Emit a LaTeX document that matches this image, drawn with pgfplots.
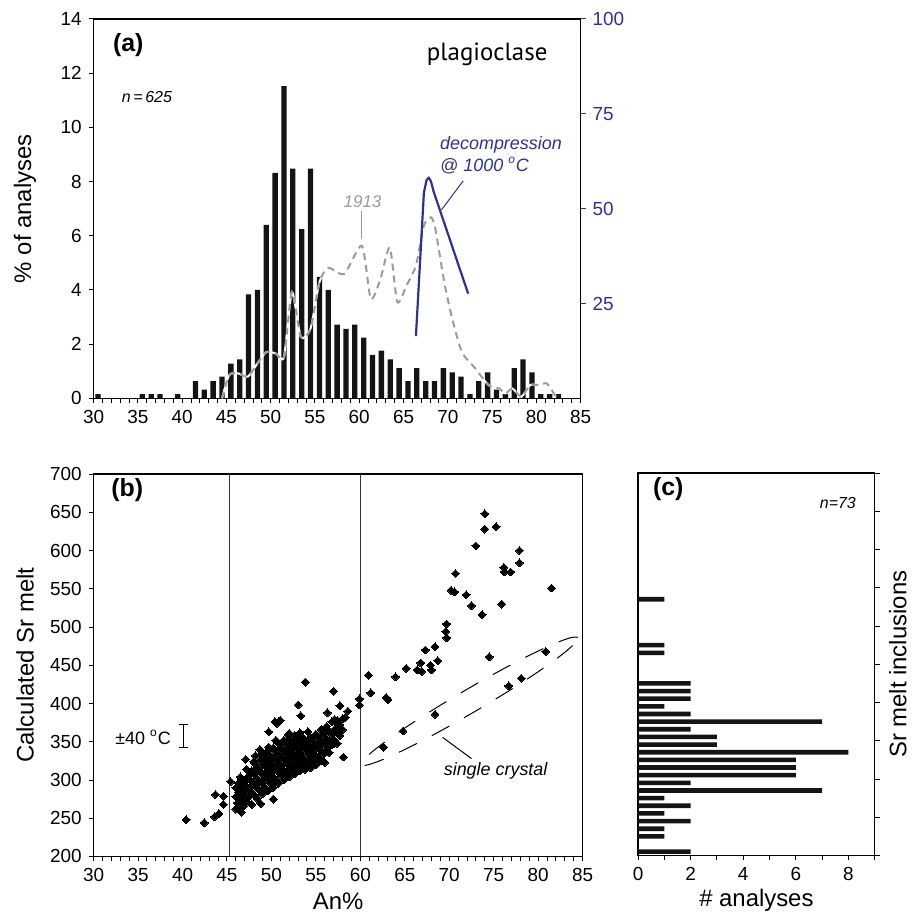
\documentclass[border=0pt]{standalone}
\usepackage{fontspec}
\setmainfont{Liberation Sans}
\newfontfamily\ptsans{PT Sans}
\usepackage{pgfplots}
\usepackage{pgfplotstable}
\pgfplotsset{compat=1.18}
\definecolor{dblue}{RGB}{46,49,146}
\definecolor{lgray}{RGB}{155,155,155}

\pgfplotsset{
  panel/.style={
    scale only axis, anchor=north west,
    tick align=outside,
    ticklabel style={font=\fontsize{9.5}{11}\selectfont},
    label style={font=\fontsize{12}{14}\selectfont},
    /pgf/number format/assume math mode=true,
    major tick length=2.5pt, minor tick length=2.5pt,
    tick style={black, line width=0.5pt},
    axis line style={line width=0.6pt},
    scaled ticks=false,
  }
}

% 1913 curve, right axis (0-100)
\pgfplotstableread{
x y
44.5 0
45.3 6.1
46.3 6.6
47.4 5.7
48.5 9.2
49.5 12.2
50.6 11.8
51.5 10.9
52.4 28
53.4 16.2
54.5 18.4
55.5 30.6
56.5 34.4
58.3 32.8
60.3 40.2
61.3 26.2
62.4 31.5
63.45 39.8
64.3 25.4
65.4 30
66.4 35
67.3 45.5
68.1 47.7
68.6 44.6
69.6 30.6
70.5 21
71.6 12.2
73.1 7.9
74.6 3.5
75.8 2.6
76.5 1.3
77.3 2.6
78.3 0.4
79.3 3.5
80.3 3.5
81.2 3.9
82.2 0.4
}\curveA

\begin{document}
\begin{tikzpicture}
\path (0,0) rectangle (457pt,-459pt);

% ---------- (a) ----------
\begin{axis}[panel, at={(47pt,-9.5pt)}, width=244.5pt, height=190.5pt,
  xmin=30, xmax=85, ymin=0, ymax=14,
  xtick={30,35,...,85}, minor x tick num=4,
  ytick={0,2,...,14}, xtick pos=left, ytick pos=left,
  ylabel={\% of analyses},
  ylabel style={at={(axis description cs:-0.141,0.5)}, anchor=center}]
\addplot[ybar, bar width=0.6, fill=black!92, draw=none] coordinates {
(30.5,0.16) (35.5,0.16) (36.5,0.16) (37.5,0.16) (39.5,0.16) (41.5,0.64)
(42.5,0.32) (43.5,0.64) (44.5,0.80) (45.5,1.28) (46.5,1.44) (47.5,3.84)
(48.5,4.00) (49.5,6.40) (50.5,8.32) (51.5,11.52) (52.5,8.48) (53.5,6.24)
(54.5,8.48) (55.5,4.48) (56.5,4.00) (57.5,2.72) (58.5,2.56) (59.5,2.72)
(60.5,2.24) (61.5,1.60) (62.5,1.76) (63.5,1.44) (64.5,1.12) (65.5,0.64)
(66.5,1.12) (67.5,0.64) (68.5,0.64) (69.5,1.12) (70.5,0.96) (71.5,0.80)
(72.5,0.16) (73.5,0.64) (74.5,0.96) (75.5,0.32) (76.5,0.16) (77.5,1.12)
(78.5,1.44) (79.5,0.96) (80.5,0.16) (81.5,0.16) (82.5,0.16)};
\end{axis}

\begin{axis}[panel, at={(47pt,-9.5pt)}, width=244.5pt, height=190.5pt,
  xmin=30, xmax=85, ymin=0, ymax=100,
  axis x line=none, axis y line*=right,
  y axis line style={draw=none},
  ytick={25,50,75,100},
  ytick style={dblue, line width=0.5pt},
  yticklabel style={dblue}]
\addplot[white, line width=1pt, smooth, tension=0.4] table[x=x,y=y] {\curveA};
\addplot[lgray, line width=1pt, dash pattern=on 3.5pt off 2.5pt, smooth, tension=0.4] table[x=x,y=y] {\curveA};
\addplot[dblue, line width=1.1pt, line join=round] coordinates {
(66.4,16.4) (67.3,54.2) (67.6,57.5) (67.85,58.2) (68.1,57.2) (68.4,54.5) (72.3,27.6)};
\draw[dblue, line width=0.5pt] (axis cs:71.73,57.3) -- (axis cs:69.29,49.7);
\draw[lgray, line width=0.6pt] (axis cs:60.23,49.4) -- (axis cs:60.23,41.9);
\node[anchor=west, font=\bfseries\fontsize{12.5}{14}\selectfont] at (axis cs:31.4,93.2) {(a)};
\node[anchor=west, font=\itshape\fontsize{8}{10}\selectfont] at (axis cs:32.4,79.3) {n\,=\,625};
\node[anchor=base west, inner sep=0pt, font=\ptsans\fontsize{12.5}{14}\selectfont] at (axis cs:67.6,89.0) {plagioclase};
\node[anchor=base west, inner sep=0pt, text=dblue, font=\itshape\fontsize{9}{11}\selectfont] at (axis cs:69.1,65.6) {decompression};
\node[anchor=base west, inner sep=0pt, text=dblue, font=\itshape\fontsize{9}{11}\selectfont] at (axis cs:69.1,59.8) {@ 1000 \textsuperscript{o}C};
\node[text=lgray, font=\itshape\fontsize{8.5}{10}\selectfont] at (axis cs:60.37,51.8) {1913};
\end{axis}

% ---------- (b) ----------
\begin{axis}[panel, at={(47pt,-238pt)}, width=245.5pt, height=192pt,
  xmin=30, xmax=85, ymin=200, ymax=700,
  xtick={30,35,...,85}, minor x tick num=4,
  ytick={200,250,...,700}, xtick pos=left, ytick pos=left,
  xlabel={An\%}, ylabel={Calculated Sr melt},
  xlabel style={at={(axis description cs:0.5,-0.117)}, anchor=center},
  ylabel style={at={(axis description cs:-0.140,0.5)}, anchor=center}]
\addplot[black!80, line width=0.6pt] coordinates {(45.3,200) (45.3,700)};
\addplot[black!80, line width=0.6pt] coordinates {(60,200) (60,700)};
\addplot[only marks, mark=square*, mark size=1.4pt,
  mark options={rotate=45, fill=black, draw=black, line width=0pt}] coordinates {
(40.4,248) (42.45,244) (43.7,281) (43.6,252) (44.1,256) (44.6,279) (44.6,268)
(45.4,298) (46.5,304) (46.5,264) (46.2,270) (47.1,327) (48.2,332) (48.0,324)
(48.8,269) (50.2,275) (50.3,295) (49.5,337) (49.7,343) (49.7,363) (50.4,376)
(50.8,376) (50.6,374) (51.0,378) (51.9,359) (52.0,361) (53.0,398) (53.3,384)
(53.8,428) (54.1,363) (55.1,358) (55.8,360) (55.1,345) (55.5,326) (56.0,323)
(56.96,363) (57.5,372) (56.96,347) (56.4,344) (57.0,416) (57.7,397) (56.3,388)
(57.1,379) (58.6,390) (58.3,382) (58.1,330) (59.9,406) (59.9,398)
(46.0,262) (46.0,278) (46.0,290)
(46.3,270) (46.3,284) (46.3,296)
(46.6,258) (46.6,276) (46.6,288) (46.6,302)
(46.9,266) (46.9,280) (46.9,294)
(47.2,272) (47.2,286) (47.2,300) (47.2,314)
(47.5,278) (47.5,290) (47.5,306)
(47.8,268) (47.8,284) (47.8,298) (47.8,312)
(48.1,280) (48.1,294) (48.1,308) (48.1,322)
(48.4,276) (48.4,290) (48.4,302) (48.4,316)
(48.7,286) (48.7,298) (48.7,312) (48.7,326) (48.7,340)
(49.0,282) (49.0,296) (49.0,308) (49.0,320) (49.0,334)
(49.3,290) (49.3,304) (49.3,318) (49.3,330)
(49.6,286) (49.6,300) (49.6,312) (49.6,324) (49.6,338)
(49.9,296) (49.9,308) (49.9,320) (49.9,332)
(50.2,290) (50.2,304) (50.2,316) (50.2,328) (50.2,342)
(50.5,300) (50.5,314) (50.5,326) (50.5,338) (50.5,352)
(50.8,296) (50.8,310) (50.8,322) (50.8,334) (50.8,348)
(51.1,306) (51.1,318) (51.1,330) (51.1,342)
(51.4,300) (51.4,312) (51.4,326) (51.4,338) (51.4,352)
(51.7,310) (51.7,322) (51.7,334) (51.7,346)
(52.0,304) (52.0,318) (52.0,330) (52.0,342) (52.0,354)
(52.3,312) (52.3,324) (52.3,336) (52.3,348)
(52.6,308) (52.6,320) (52.6,332) (52.6,344) (52.6,358)
(52.9,316) (52.9,328) (52.9,340) (52.9,352)
(53.2,312) (53.2,324) (53.2,336) (53.2,348) (53.2,362)
(53.5,318) (53.5,330) (53.5,344) (53.5,356)
(53.8,314) (53.8,326) (53.8,340) (53.8,352)
(54.1,320) (54.1,334) (54.1,346)
(54.4,316) (54.4,328) (54.4,342) (54.4,356)
(54.7,324) (54.7,338) (54.7,350)
(55.0,320) (55.0,332) (55.0,346) (55.0,360)
(55.3,330) (55.3,342) (55.3,354)
(55.6,326) (55.6,338) (55.6,352) (55.6,366)
(55.9,334) (55.9,348) (55.9,362)
(56.2,340) (56.2,354) (56.2,370)
(56.5,336) (56.5,350) (56.5,364)
(56.8,346) (56.8,360) (56.8,376)
(57.1,352) (57.1,366)
(57.4,348) (57.4,362) (57.4,378)
(57.7,358) (57.7,372)
(58.0,366) (58.0,380)
(74.0,648) (74.0,628) (75.27,631) (73.0,606) (77.9,600) (77.9,584) (76.15,578)
(76.2,572) (76.9,572) (70.7,570) (70.2,548) (70.6,546) (81.5,551) (71.9,542)
(72.5,528) (75.9,530) (73.7,516) (69.7,504) (69.6,494) (69.7,486) (68.4,474)
(67.3,470) (68.7,456) (67.9,450) (68.0,444) (66.8,453) (66.9,442) (66.4,444)
(65.16,446) (63.95,435) (60.9,437) (61.17,414) (62.9,408) (63.1,405) (64.8,364)
(62.6,343) (68.4,386) (74.5,461) (76.7,423) (78.1,433) (80.85,468)};
\addplot[black, line width=0.5pt, mark=none,
  error bars/.cd, y dir=both, y explicit,
  error bar style={line width=0.5pt},
  error mark options={rotate=90, mark size=2.3pt, line width=0.5pt}]
  coordinates {(40.07,358) +- (0,15)};
\draw[black, line width=0.5pt, dash pattern=on 10pt off 8.5pt,
  rotate around={30.4:(axis cs:72.28,403)}]
  (axis cs:72.28,403) ellipse [x radius=63pt, y radius=5.8pt];
\draw[black, line width=0.5pt] (axis cs:69.26,355.7) -- (axis cs:72.5,328);
\node[anchor=west, font=\itshape\fontsize{9}{11}\selectfont] at (axis cs:68.6,312) {single crystal};
\node[anchor=west, inner sep=0pt, font=\fontsize{9}{11}\selectfont] at (axis cs:32.4,356) {±40 \textsuperscript{o}C};
\node[anchor=west, font=\bfseries\fontsize{12.5}{14}\selectfont] at (axis cs:31.2,679) {(b)};
\end{axis}

% ---------- (c) ----------
\begin{axis}[panel, at={(320.35pt,-237.5pt)}, width=118.8pt, height=192pt,
  xmin=0, xmax=9, ymin=200, ymax=700,
  xtick={0,2,...,8}, minor xtick={1,3,...,9}, xtick pos=left,
  ytick={200,250,...,700}, ytick pos=right, yticklabels={},
  xlabel={\# analyses}, ylabel={Sr melt inclusions},
  xlabel style={at={(axis description cs:0.5,-0.117)}, anchor=center},
  ylabel style={at={(axis description cs:1.098,0.5)}, anchor=center}]
\addplot[xbar, bar width=6, fill=black!92, draw=none] coordinates {
(2,205) (1,225) (1,235) (2,245) (1,255) (2,265) (1,275) (7,285) (2,295)
(6,305) (6,315) (6,325) (8,335) (3,345) (3,355) (2,365) (7,375) (2,385)
(1,395) (2,405) (2,415) (2,425) (1,465) (1,475) (1,535)};
\node[anchor=west, font=\bfseries\fontsize{12.5}{14}\selectfont] at (axis cs:0.3,679) {(c)};
\node[anchor=east, font=\itshape\fontsize{8}{10}\selectfont] at (axis cs:8.55,661) {n=73};
\end{axis}
\end{tikzpicture}
\end{document}
